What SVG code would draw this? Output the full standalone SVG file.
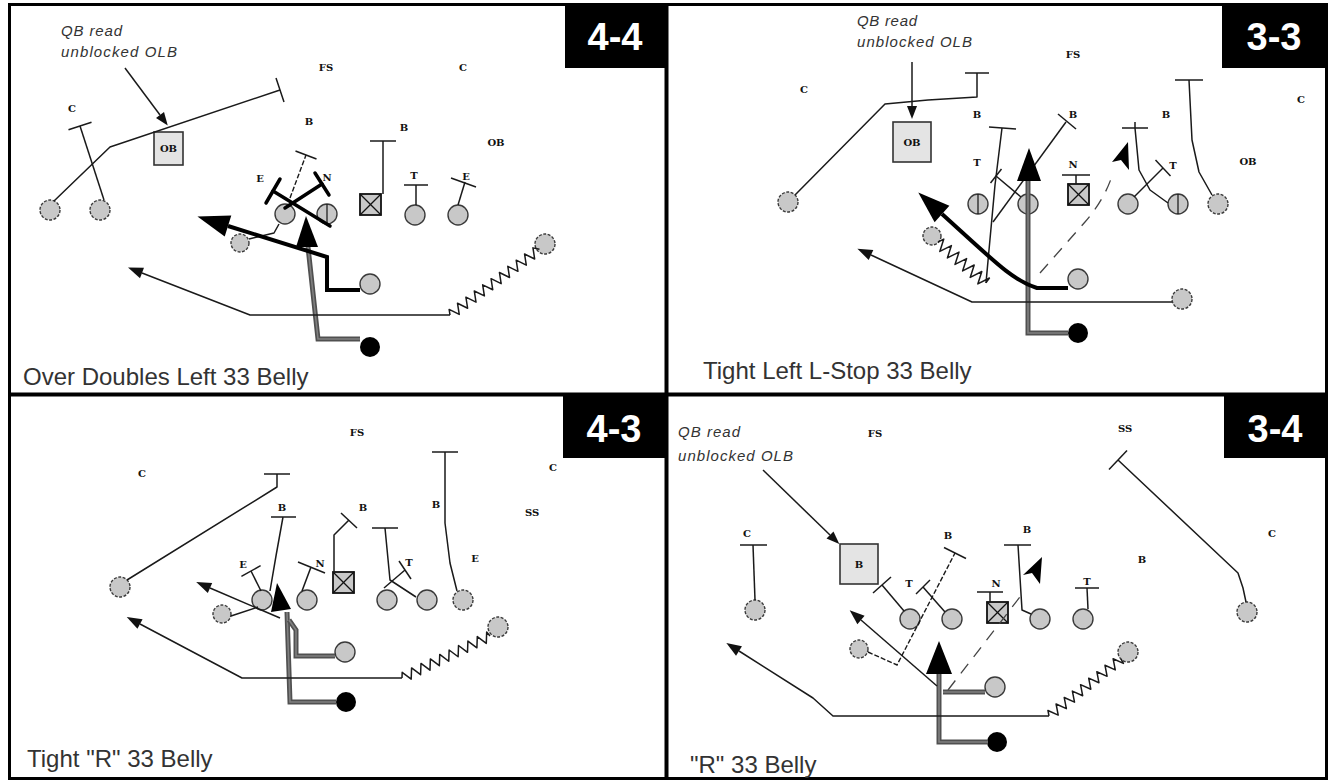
<svg xmlns="http://www.w3.org/2000/svg" width="1330" height="782" viewBox="0 0 1330 782">
<style>
.ln{fill:none;stroke:#1a1a1a;stroke-width:1.5;stroke-linejoin:round}
.ds{fill:none;stroke:#1a1a1a;stroke-width:1.4;stroke-dasharray:5 2}
.rd{fill:none;stroke:#444;stroke-width:1.3;stroke-dasharray:12 9}
.tk{fill:none;stroke:#000;stroke-width:4;stroke-linejoin:miter}
.tb{fill:none;stroke:#000;stroke-width:3.5;stroke-linecap:round}
.qo{fill:none;stroke:#505050;stroke-width:5}
.qi{fill:none;stroke:#808080;stroke-width:1.6}
.p{fill:#c8c8c8;stroke:#3a3a3a;stroke-width:1.4}
.w{fill:#c8c8c8;stroke:#3a3a3a;stroke-width:1.4;stroke-dasharray:3 1.5}
.ctr{fill:#c8c8c8;stroke:#111;stroke-width:1.8}
.xl{stroke:#111;stroke-width:1.2}
.qb{fill:#000}
.ob{fill:#e4e4e4;stroke:#333;stroke-width:1.6}
.hd{fill:#000}
.lb{font-family:"DejaVu Serif","Liberation Serif",serif;font-weight:bold;font-size:10px;fill:#111;text-anchor:middle}
.nt{font-family:"Liberation Sans",sans-serif;font-style:italic;font-size:15px;fill:#333}
.cap{font-family:"Liberation Sans",Arial,sans-serif;font-size:24px;fill:#333}
.tag{font-family:"Liberation Sans",Arial,sans-serif;font-weight:bold;font-size:38px;fill:#fff;text-anchor:middle}
.frm{fill:none;stroke:#000}
</style>
<defs>
<marker id="hs" markerUnits="userSpaceOnUse" markerWidth="16" markerHeight="12" refX="0" refY="5.5" orient="auto" overflow="visible"><path d="M0,0 L15,5.5 L0,11 Z" fill="#111"/></marker>
<marker id="hm" markerUnits="userSpaceOnUse" markerWidth="14" markerHeight="12" refX="0" refY="5" orient="auto" overflow="visible"><path d="M0,0 L13,5 L0,10 Z" fill="#111"/></marker>
<marker id="hb" markerUnits="userSpaceOnUse" markerWidth="34" markerHeight="24" refX="0" refY="11" orient="auto" overflow="visible"><path d="M0,0 L32,11 L0,22 Z" fill="#000"/></marker>
</defs>
<rect width="1330" height="782" fill="#fff"/>

<g id="frame">
<rect class="frm" x="9.5" y="4.5" width="1317" height="774" stroke-width="3"/>
<line class="frm" x1="666.5" y1="4" x2="666.5" y2="779" stroke-width="4"/>
<line class="frm" x1="9" y1="394.5" x2="1327" y2="394.5" stroke-width="4"/>
</g>

<!-- ================= Q1 ================= -->
<g id="q1">
<g id="q1-tag"><rect x="565" y="5" width="101" height="63" fill="#000"/><text class="tag" x="615" y="50">4-4</text></g>
<g id="q1-caption"><text class="cap" x="23" y="385">Over Doubles Left 33 Belly</text></g>
<g id="q1-note"><text class="nt" x="61" y="36" textLength="61" lengthAdjust="spacing">QB read</text><text class="nt" x="61" y="57" textLength="116" lengthAdjust="spacing">unblocked OLB</text></g>
<g id="q1-labels">
<text class="lb" x="72" y="112">C</text>
<text class="lb" x="326" y="71">FS</text>
<text class="lb" x="463" y="71">C</text>
<text class="lb" x="309" y="125">B</text>
<text class="lb" x="404" y="131">B</text>
<text class="lb" x="496" y="146">OB</text>
<text class="lb" x="260" y="182">E</text>
<text class="lb" x="327" y="181">N</text>
<text class="lb" x="414" y="179">T</text>
<text class="lb" x="466" y="180">E</text>
</g>
<g id="q1-olb"><rect class="ob" x="154" y="132" width="29" height="33"/><text class="lb" x="168.5" y="152" font-size="8">OB</text></g>
<g id="q1-wr1"><circle class="w" cx="50" cy="210" r="10"/></g>
<g id="q1-wr2"><circle class="w" cx="100" cy="210" r="10"/></g>
<g id="q1-lt"><circle class="p" cx="285" cy="214" r="10"/></g>
<g id="q1-lg"><circle class="p" cx="327" cy="214" r="10"/><line class="xl" x1="327" y1="204" x2="327" y2="224"/></g>
<g id="q1-c"><rect class="ctr" x="360" y="194" width="21" height="21"/><line class="xl" x1="360" y1="194" x2="381" y2="215"/><line class="xl" x1="381" y1="194" x2="360" y2="215"/></g>
<g id="q1-rg"><circle class="p" cx="415" cy="215" r="10"/></g>
<g id="q1-rt"><circle class="p" cx="458" cy="215" r="10"/></g>
<g id="q1-wing"><circle class="w" cx="240" cy="243" r="9"/></g>
<g id="q1-wr3"><circle class="w" cx="545" cy="244" r="10"/></g>
<g id="q1-back"><circle class="p" cx="370" cy="284" r="10"/></g>
<g id="q1-qb"><circle class="qb" cx="370" cy="347" r="10"/></g>
</g>

<g id="q1-connectors">
<path class="ln" d="M54,201 L110,147 L280,90"/><path class="ln" d="M276,78 L284,102"/>
<path class="ln" d="M104,200 L80,126"/><path class="ln" d="M68.5,129.7 L91.5,122.3"/>
<path class="ln" d="M125,68 L160,115" marker-end="url(#hm)"/>
<path class="ds" d="M290,198 L306,155"/><path class="ln" d="M295.5,151 L316.5,159"/>
<path class="ln" d="M383,194 L383,141"/><path class="ln" d="M370,141 L396,141"/>
<path class="ln" d="M416,205 L416,185"/><path class="ln" d="M404,185 L428,185"/>
<path class="ln" d="M458,205 L465,182"/><path class="ln" d="M451,178 L476,187"/>
<path class="ln" d="M249,239 L274,233 L279,224"/>
<path class="qo" d="M360,339 L318,339 L308,247"/><path class="qi" d="M360,339 L318,339 L308,247"/>
<polygon class="hd" points="306,216 318,247 296,247"/>
<path class="tb" d="M273,191 L330,226"/><path class="tb" d="M266,203 L280,179"/>
<path class="tb" d="M322,184 L285,208"/><path class="tb" d="M315,173 L329,195"/>
<path class="tk" d="M360,290 L327,290 L327,257 L228,226" marker-end="url(#hb)"/>
<path class="ln" transform="translate(450,315) rotate(-36.3)" d="M0,0 l2.6,-5 l5.2,10 l5.2,-10 l5.2,10 l5.2,-10 l5.2,10 l5.2,-10 l5.2,10 l5.2,-10 l5.2,10 l5.2,-10 l5.2,10 l5.2,-10 l5.2,10 l5.2,-10 l5.2,10 l5.2,-10 l5.2,10 l5.2,-10 l5.2,10 l5.2,-10 L111,0"/>
<path class="ln" d="M450,315 L250,315 L142,273" marker-end="url(#hs)"/>
</g>

<!-- ================= Q2 ================= -->
<g id="q2">
<g id="q2-tag"><rect x="1222" y="5" width="104" height="63" fill="#000"/><text class="tag" x="1274" y="50">3-3</text></g>
<g id="q2-caption"><text class="cap" x="703" y="379">Tight Left L-Stop 33 Belly</text></g>
<g id="q2-note"><text class="nt" x="857" y="26" textLength="60" lengthAdjust="spacing">QB read</text><text class="nt" x="857" y="47" textLength="115" lengthAdjust="spacing">unblocked OLB</text></g>
<g id="q2-labels">
<text class="lb" x="804" y="93">C</text>
<text class="lb" x="1073" y="58">FS</text>
<text class="lb" x="977" y="118">B</text>
<text class="lb" x="1073" y="118">B</text>
<text class="lb" x="1166" y="118">B</text>
<text class="lb" x="1301" y="103">C</text>
<text class="lb" x="1248" y="165">OB</text>
<text class="lb" x="977" y="166">T</text>
<text class="lb" x="1073" y="168">N</text>
<text class="lb" x="1173" y="169">T</text>
</g>
<g id="q2-olb"><rect class="ob" x="893" y="122" width="38" height="40"/><text class="lb" x="912" y="146" font-size="8">OB</text></g>
<g id="q2-wr1"><circle class="w" cx="788" cy="202" r="10"/></g>
<g id="q2-lt"><circle class="p" cx="978" cy="204" r="10"/><line class="xl" x1="978" y1="194" x2="978" y2="214"/></g>
<g id="q2-lg"><circle class="p" cx="1028" cy="204" r="10"/></g>
<g id="q2-c"><rect class="ctr" x="1068" y="184" width="21" height="21"/><line class="xl" x1="1068" y1="184" x2="1089" y2="205"/><line class="xl" x1="1089" y1="184" x2="1068" y2="205"/></g>
<g id="q2-rg"><circle class="p" cx="1128" cy="204" r="10"/></g>
<g id="q2-rt"><circle class="p" cx="1178" cy="204" r="10"/><line class="xl" x1="1178" y1="194" x2="1178" y2="214"/></g>
<g id="q2-te"><circle class="w" cx="1218" cy="204" r="10"/></g>
<g id="q2-wing"><circle class="w" cx="932" cy="236" r="9"/></g>
<g id="q2-back"><circle class="p" cx="1078" cy="279" r="10"/></g>
<g id="q2-wr2"><circle class="w" cx="1182" cy="299" r="10"/></g>
<g id="q2-qb"><circle class="qb" cx="1078" cy="333" r="10"/></g>
</g>

<g id="q2-connectors">
<path class="ln" d="M795,195 L885,104 L928,100 L977,97 L977,73"/><path class="ln" d="M965,73 L989,73"/>
<path class="ln" d="M912,62 L912,106" marker-end="url(#hm)"/>
<path class="ln" transform="translate(938,242) rotate(40.5)" d="M0,0 l2.5,-6 l5,12 l5,-12 l5,12 l5,-12 l5,12 l5,-12 l5,12 l5,-12 l5,12 l5,-12 l5,12 l5,-12 L63,0"/>
<path class="ln" d="M986,283 L989,250 L995,185 L1002,128"/><path class="ln" d="M989,127 L1016,129"/>
<path class="ln" d="M1021,197 L996,176"/><path class="ln" d="M1001.5,169 L990.5,183"/>
<path class="ln" d="M993,222 L1066,122"/><path class="ln" d="M1058,114 L1076,129"/>
<path class="ln" d="M1076,184 L1076,175"/><path class="ln" d="M1062,175 L1090,175"/>
<path class="ln" d="M1134,197 L1163,168"/><path class="ln" d="M1155.5,160 L1170.5,176"/>
<path class="ln" d="M1168,203 L1150,190 L1139,170 L1135,128"/><path class="ln" d="M1122,128 L1148,128 M1135,122 L1135,128"/>
<path class="ln" d="M1212,195 L1199,172 L1192,140 L1189,80"/><path class="ln" d="M1175,80 L1203,80"/>
<path class="rd" d="M1040,273 L1085,222 Q1104,200 1112,176"/>
<polygon class="hd" points="1128,142 1112,162 1121,160 1129,170"/>
<path class="qo" d="M1068,333 L1028,333 L1028,180"/><path class="qi" d="M1068,333 L1028,333 L1028,180"/>
<polygon class="hd" points="1029,148 1041,181 1017,181"/>
<path class="tk" d="M1068,288 L1037,288 C1012,280 995,262 942,214" marker-end="url(#hb)"/>
<path class="ln" d="M1172,302 L972,302 L871,255" marker-end="url(#hs)"/>
</g>

<!-- ================= Q3 ================= -->
<g id="q3">
<g id="q3-tag"><rect x="563" y="396" width="103" height="62" fill="#000"/><text class="tag" x="614" y="442">4-3</text></g>
<g id="q3-caption"><text class="cap" x="27" y="767">Tight &quot;R&quot; 33 Belly</text></g>
<g id="q3-labels">
<text class="lb" x="142" y="477">C</text>
<text class="lb" x="357" y="436">FS</text>
<text class="lb" x="553" y="471">C</text>
<text class="lb" x="532" y="516">SS</text>
<text class="lb" x="282" y="511">B</text>
<text class="lb" x="363" y="511">B</text>
<text class="lb" x="436" y="508">B</text>
<text class="lb" x="243" y="568">E</text>
<text class="lb" x="320" y="567">N</text>
<text class="lb" x="409" y="566">T</text>
<text class="lb" x="475" y="562">E</text>
</g>
<g id="q3-wr1"><circle class="w" cx="120" cy="587" r="10"/></g>
<g id="q3-lt"><circle class="p" cx="262" cy="600" r="10"/></g>
<g id="q3-lg"><circle class="p" cx="307" cy="600" r="10"/></g>
<g id="q3-c"><rect class="ctr" x="333" y="572" width="21" height="21"/><line class="xl" x1="333" y1="572" x2="354" y2="593"/><line class="xl" x1="354" y1="572" x2="333" y2="593"/></g>
<g id="q3-rg"><circle class="p" cx="387" cy="600" r="10"/></g>
<g id="q3-rt"><circle class="p" cx="427" cy="600" r="10"/></g>
<g id="q3-te"><circle class="w" cx="463" cy="600" r="10"/></g>
<g id="q3-wing"><circle class="w" cx="222" cy="614" r="9"/></g>
<g id="q3-wr2"><circle class="w" cx="498" cy="627" r="10"/></g>
<g id="q3-back"><circle class="p" cx="345" cy="652" r="10"/></g>
<g id="q3-qb"><circle class="qb" cx="346" cy="702" r="10"/></g>
</g>

<g id="q3-connectors">
<path class="ln" d="M127,580 L277,487 L277,474"/><path class="ln" d="M264,474 L290,474"/>
<path class="ln" d="M270,591 Q276,555 283,517"/><path class="ln" d="M271,517 L296,517"/>
<path class="ln" d="M261,591 L251,571"/><path class="ln" d="M260.6,565.7 L241.4,576.3"/>
<path class="ln" d="M302,591 L311,567"/><path class="ln" d="M298,562 L325,573"/>
<path class="ln" d="M334,572 L334,535 L349,520"/><path class="ln" d="M341,513 L357,528"/>
<path class="ln" d="M416,597 L390,580 L385,528"/><path class="ln" d="M372,528 L398,528"/>
<path class="ln" d="M384,588 L405,570"/><path class="ln" d="M399,561 L411,579"/>
<path class="ln" d="M457,591 L450,563 L445,523 L445,452"/><path class="ln" d="M432,452 L458,452"/>
<path class="qo" d="M336,702 L290,702 L287,612"/><path class="qi" d="M336,702 L290,702 L287,612"/>
<path class="qo" d="M335,656 L296,656 L296,630 L289,620"/><path class="qi" d="M335,656 L296,656 L296,630 L289,620"/>
<polygon class="hd" points="277,583 291,609 271,612"/>
<path class="ln" d="M280,618 L210,588" marker-end="url(#hs)"/>
<path class="ln" d="M231,616 L258,607"/>
<path class="ln" transform="translate(402,678) rotate(-25.5)" d="M0,0 l2.6,-5 l5.2,10 l5.2,-10 l5.2,10 l5.2,-10 l5.2,10 l5.2,-10 l5.2,10 l5.2,-10 l5.2,10 l5.2,-10 l5.2,10 l5.2,-10 l5.2,10 l5.2,-10 l5.2,10 l5.2,-10 l5.2,10 l5.2,-10 L97.5,0"/>
<path class="ln" d="M402,678 L242,678 L140,624" marker-end="url(#hs)"/>
</g>

<!-- ================= Q4 ================= -->
<g id="q4">
<g id="q4-tag"><rect x="1224" y="396" width="102" height="62" fill="#000"/><text class="tag" x="1275" y="442">3-4</text></g>
<g id="q4-caption"><text class="cap" x="690" y="773">&quot;R&quot; 33 Belly</text></g>
<g id="q4-note"><text class="nt" x="678" y="437" textLength="62" lengthAdjust="spacing">QB read</text><text class="nt" x="678" y="461" textLength="115" lengthAdjust="spacing">unblocked OLB</text></g>
<g id="q4-labels">
<text class="lb" x="875" y="437">FS</text>
<text class="lb" x="1125" y="432">SS</text>
<text class="lb" x="747" y="537">C</text>
<text class="lb" x="948" y="539">B</text>
<text class="lb" x="1027" y="533">B</text>
<text class="lb" x="1272" y="537">C</text>
<text class="lb" x="1142" y="563">B</text>
<text class="lb" x="909" y="587">T</text>
<text class="lb" x="996" y="587">N</text>
<text class="lb" x="1087" y="585">T</text>
</g>
<g id="q4-olb"><rect class="ob" x="840" y="544" width="38" height="40"/><text class="lb" x="859" y="568">B</text></g>
<g id="q4-wr1"><circle class="w" cx="755" cy="610" r="10"/></g>
<g id="q4-lt"><circle class="p" cx="910" cy="619" r="10"/></g>
<g id="q4-lg"><circle class="p" cx="952" cy="619" r="10"/></g>
<g id="q4-c"><rect class="ctr" x="987" y="602" width="21" height="21"/><line class="xl" x1="987" y1="602" x2="1008" y2="623"/><line class="xl" x1="1008" y1="602" x2="987" y2="623"/></g>
<g id="q4-rg"><circle class="p" cx="1040" cy="619" r="10"/></g>
<g id="q4-rt"><circle class="p" cx="1083" cy="619" r="10"/></g>
<g id="q4-wr3"><circle class="w" cx="1247" cy="612" r="10"/></g>
<g id="q4-wing"><circle class="w" cx="859" cy="649" r="9"/></g>
<g id="q4-wr2"><circle class="w" cx="1128" cy="652" r="10"/></g>
<g id="q4-back"><circle class="p" cx="995" cy="687" r="10"/></g>
<g id="q4-qb"><circle class="qb" cx="997" cy="742" r="10"/></g>
</g>

<g id="q4-connectors">
<path class="ln" d="M763,470 L830,535" marker-end="url(#hm)"/>
<path class="ln" d="M755,600 L753,545"/><path class="ln" d="M740,545 L767,545"/>
<path class="ln" d="M904,611 L882,585"/><path class="ln" d="M891,577 L873,593"/>
<path class="ln" d="M945,612 L923,587"/><path class="ln" d="M930,580 L916,594"/>
<path class="ds" d="M868,652 L897,665 L955,553"/><path class="ln" d="M944,547.5 L966,558.5"/>
<path class="ln" d="M1031,614 L1022,610 L1018,545"/><path class="ln" d="M1004,545 L1031,545"/>
<path class="rd" d="M948,690 L1023,593"/>
<polygon class="hd" points="1042,557 1023,575 1032,573 1040,584"/>
<path class="ln" d="M990,602 L990,592"/><path class="ln" d="M977,592 L1003,592"/>
<path class="ln" d="M1088,609 L1087,588"/><path class="ln" d="M1075,588 L1099,588"/>
<path class="ln" d="M1246,602 L1243,588 L1238,573 L1118,460"/><path class="ln" d="M1127,450.5 L1109,469.5"/>
<path class="qo" d="M988,742 L939,742 L939,673"/><path class="qi" d="M988,742 L939,742 L939,673"/>
<path class="qo" d="M985,692 L943,692"/><path class="qi" d="M985,692 L943,692"/>
<polygon class="hd" points="939,641 952,674 926,674"/>
<path class="ln" d="M937,686 L861,620" marker-end="url(#hs)"/>
<path class="ln" transform="translate(1049,716) rotate(-38.4)" d="M0,0 l2.6,-5 l5.2,10 l5.2,-10 l5.2,10 l5.2,-10 l5.2,10 l5.2,-10 l5.2,10 l5.2,-10 l5.2,10 l5.2,-10 l5.2,10 l5.2,-10 l5.2,10 l5.2,-10 l5.2,10 l5.2,-10 l5.2,10 L91.8,0"/>
<path class="ln" d="M1049,716 L833,716 L813,698 L739,651" marker-end="url(#hs)"/>
</g>
</svg>
